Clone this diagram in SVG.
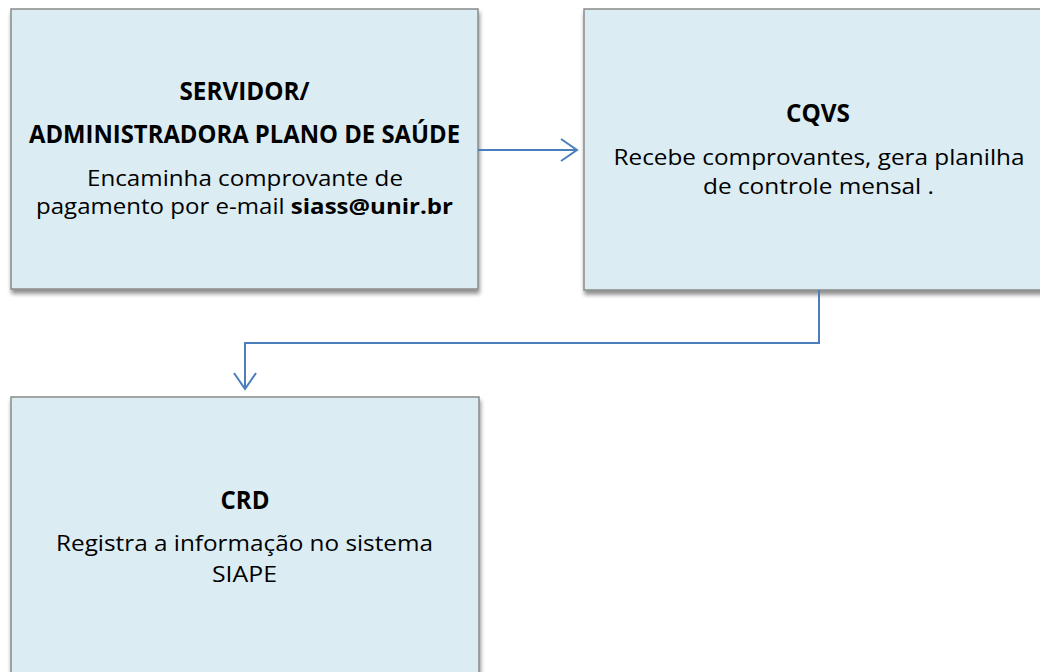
<svg xmlns="http://www.w3.org/2000/svg" width="1040" height="672" viewBox="0 0 1040 672">
<style>
.box{fill:#dbecf3;stroke:#8a8a8a;stroke-width:1.5;filter:url(#sh)}
.t{font-family:"Open Sans","Liberation Sans",sans-serif;font-size:25px;fill:#000;text-anchor:middle}
.s{font-size:22px}
.b{font-weight:bold}
.c{fill:none;stroke:#4a7ebb;stroke-width:2}
</style>
<defs>
<filter id="sh" x="-5%" y="-5%" width="110%" height="115%">
<feGaussianBlur in="SourceAlpha" stdDeviation="2"/>
<feOffset dx="1" dy="4" result="o"/>
<feComponentTransfer><feFuncA type="linear" slope="0.45"/></feComponentTransfer>
<feMerge><feMergeNode/><feMergeNode in="SourceGraphic"/></feMerge>
</filter>
<marker id="arr" markerWidth="20" markerHeight="26" refX="17" refY="12" orient="auto" markerUnits="userSpaceOnUse">
<path d="M1,1 L17,12 L1,23" fill="none" stroke="#4a7ebb" stroke-width="2"/>
</marker>
</defs>
<rect width="1040" height="672" fill="#ffffff"/>
<g id="node-servidor">
<rect class="box" x="11" y="9" width="467" height="280"/>
<text class="t b" x="244.5" y="100" textLength="130" lengthAdjust="spacingAndGlyphs">SERVIDOR/</text>
<text class="t b" x="244.5" y="143" textLength="431" lengthAdjust="spacingAndGlyphs">ADMINISTRADORA PLANO DE SAÚDE</text>
<text class="t s" x="245" y="186" textLength="316" lengthAdjust="spacingAndGlyphs">Encaminha comprovante de</text>
<text class="t s" x="244.5" y="214" textLength="417" lengthAdjust="spacingAndGlyphs">pagamento por e-mail <tspan class="b">siass@unir.br</tspan></text>
</g>
<g id="node-cqvs">
<rect class="box" x="584" y="9" width="470" height="281"/>
<text class="t b" x="818" y="122" textLength="64" lengthAdjust="spacingAndGlyphs">CQVS</text>
<text class="t s" x="819" y="165" textLength="411" lengthAdjust="spacingAndGlyphs">Recebe comprovantes, gera planilha</text>
<text class="t s" x="818.5" y="194" textLength="231" lengthAdjust="spacingAndGlyphs">de controle mensal .</text>
</g>
<g id="node-crd">
<rect class="box" x="11" y="397" width="468" height="290"/>
<text class="t b" x="245" y="509" textLength="49" lengthAdjust="spacingAndGlyphs">CRD</text>
<text class="t s" x="244.5" y="551" textLength="377" lengthAdjust="spacingAndGlyphs">Registra a informação no sistema</text>
<text class="t s" x="244.5" y="582" textLength="65" lengthAdjust="spacingAndGlyphs">SIAPE</text>
</g>
<g id="connectors">
<path class="c" d="M478,150 L577,150" marker-end="url(#arr)"/>
<path class="c" d="M819,290 L819,343 L245,343 L245,389" marker-end="url(#arr)"/>
</g>
</svg>
